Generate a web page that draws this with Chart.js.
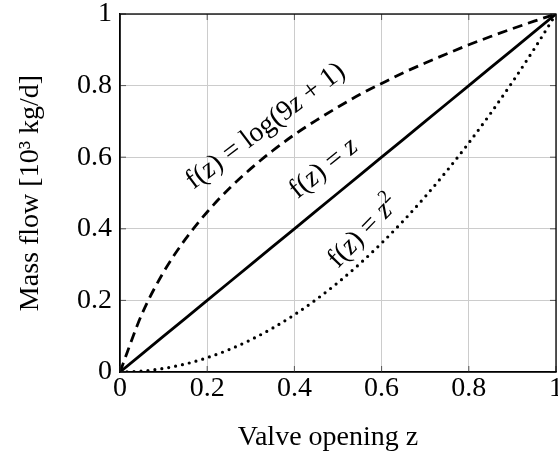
<!DOCTYPE html>
<html>
<head>
<meta charset="utf-8">
<script src="https://cdn.jsdelivr.net/npm/chart.js@4/dist/chart.umd.min.js"></script>
<style>
  html, body { margin: 0; padding: 0; background: #fff; overflow: hidden; }
  #wrap { width: 575px; height: 452px; }
</style>
</head>
<body>
<div id="wrap"><canvas id="flow"></canvas></div>
<script>
// valve opening z and the three valve characteristics
var opening = [0, 0.05, 0.1, 0.15, 0.2, 0.25, 0.3, 0.35, 0.4, 0.45, 0.5,
               0.55, 0.6, 0.65, 0.7, 0.75, 0.8, 0.85, 0.9, 0.95, 1];
var logFlow = [0, 0.161, 0.279, 0.371, 0.447, 0.512, 0.568, 0.618, 0.663, 0.703, 0.740,
               0.775, 0.806, 0.836, 0.863, 0.889, 0.914, 0.937, 0.959, 0.980, 1];
var linearFlow = [0, 0.05, 0.1, 0.15, 0.2, 0.25, 0.3, 0.35, 0.4, 0.45, 0.5,
                  0.55, 0.6, 0.65, 0.7, 0.75, 0.8, 0.85, 0.9, 0.95, 1];
var squareFlow = [0, 0.0025, 0.01, 0.0225, 0.04, 0.0625, 0.09, 0.1225, 0.16, 0.2025, 0.25,
                  0.3025, 0.36, 0.4225, 0.49, 0.5625, 0.64, 0.7225, 0.81, 0.9025, 1];
var tickValues = [0, 0.2, 0.4, 0.6, 0.8, 1];
var tickLabels = ['0', '0.2', '0.4', '0.6', '0.8', '1'];
var xTitle = 'Valve opening z';
var yTitle = 'Mass flow [10³ kg/d]';

var serif = 'Liberation Serif';
var tickFont = { family: serif, size: 28 };
var titleFont = { family: serif, size: 28 };

function points(ys) {
  return opening.map(function (z, i) { return { x: z, y: ys[i] }; });
}

// curve annotations: text runs, anchor (data coords), rotation in degrees
var curveLabels = [
  { runs: [['f(', 'n'], ['z', 'i'], [') = log(9', 'n'], ['z', 'i'], [' + 1)', 'n']], x: 0.332, y: 0.690, angle: -37 },
  { runs: [['f(', 'n'], ['z', 'i'], [') = ', 'n'], ['z', 'i']], x: 0.465, y: 0.572, angle: -39 },
  { runs: [['f(', 'n'], ['z', 'i'], [') = ', 'n'], ['z', 'i'], ['2', 's']], x: 0.556, y: 0.395, angle: -46 }
];

function runFont(kind) {
  if (kind === 'i') return 'italic 28px "' + serif + '"';
  if (kind === 's') return '19px "' + serif + '"';
  return '28px "' + serif + '"';
}

var labelPlugin = {
  id: 'curveLabels',
  afterDatasetsDraw: function (chart) {
    var ctx = chart.ctx, xs = chart.scales.x, ys = chart.scales.y;
    curveLabels.forEach(function (lab) {
      var total = 0;
      lab.runs.forEach(function (r) { ctx.font = runFont(r[1]); total += ctx.measureText(r[0]).width; });
      ctx.save();
      ctx.translate(xs.getPixelForValue(lab.x), ys.getPixelForValue(lab.y));
      ctx.rotate(lab.angle * Math.PI / 180);
      ctx.fillStyle = '#000';
      ctx.textBaseline = 'alphabetic';
      var cx = -total / 2;
      lab.runs.forEach(function (r) {
        ctx.font = runFont(r[1]);
        ctx.fillText(r[0], cx, r[1] === 's' ? -2 : 9);
        cx += ctx.measureText(r[0]).width;
      });
      ctx.restore();
    });
  }
};

// frame on all four sides with short inward tick marks, plus the x axis title
var framePlugin = {
  id: 'frame',
  afterDraw: function (chart) {
    var ctx = chart.ctx, a = chart.chartArea, xs = chart.scales.x, ys = chart.scales.y;
    ctx.save();
    ctx.strokeStyle = '#555';
    ctx.lineWidth = 1;
    tickValues.forEach(function (v) {
      var px = xs.getPixelForValue(v), py = ys.getPixelForValue(v);
      ctx.beginPath();
      ctx.moveTo(px, a.bottom); ctx.lineTo(px, a.bottom - 6);
      ctx.moveTo(px, a.top); ctx.lineTo(px, a.top + 6);
      ctx.moveTo(a.left, py); ctx.lineTo(a.left + 6, py);
      ctx.moveTo(a.right, py); ctx.lineTo(a.right - 6, py);
      ctx.stroke();
    });
    ctx.strokeStyle = '#000';
    ctx.lineWidth = 1.3;
    ctx.strokeRect(a.left, a.top, a.right - a.left, a.bottom - a.top);

    ctx.fillStyle = '#000';
    ctx.font = '28px "' + serif + '"';
    ctx.textAlign = 'center';
    ctx.textBaseline = 'alphabetic';
    ctx.fillText(xTitle, (a.left + a.right) / 2 - 10, a.bottom + 73);
    ctx.restore();
  }
};

new Chart(document.getElementById('flow').getContext('2d'), {
  type: 'line',
  data: {
    datasets: [
      { label: 'log', data: points(logFlow), borderColor: '#000', borderWidth: 2.8,
        borderDash: [10, 6], pointRadius: 0, cubicInterpolationMode: 'monotone' },
      { label: 'linear', data: points(linearFlow), borderColor: '#000', borderWidth: 2.8,
        pointRadius: 0 },
      { label: 'square', data: points(squareFlow), borderColor: '#000', borderWidth: 3.2,
        borderDash: [0, 7], borderCapStyle: 'round', pointRadius: 0, cubicInterpolationMode: 'monotone' }
    ]
  },
  options: {
    responsive: true,
    maintainAspectRatio: false,
    animation: false,
    layout: { padding: { top: 14, right: 19, left: 0, bottom: 0 } },
    plugins: { legend: { display: false }, tooltip: { enabled: false } },
    scales: {
      x: {
        type: 'linear', min: 0, max: 1,
        afterBuildTicks: function (s) { s.ticks = tickValues.map(function (v) { return { value: v }; }); },
        afterFit: function (s) { s.height = 80; s.paddingLeft = 0; s.paddingRight = 0; },
        ticks: { callback: function (v, i) { return tickLabels[i]; }, font: tickFont, color: '#000', padding: 0, maxRotation: 0 },
        grid: { color: '#cccccc', drawTicks: false },
        border: { color: '#000', width: 1.3 }
      },
      y: {
        type: 'linear', min: 0, max: 1,
        afterBuildTicks: function (s) { s.ticks = tickValues.map(function (v) { return { value: v }; }); },
        afterFit: function (s) { s.width = 120; s.paddingTop = 0; s.paddingBottom = 0; },
        ticks: { callback: function (v, i) { return tickLabels[i]; }, font: tickFont, color: '#000', padding: 8 },
        grid: { color: '#cccccc', drawTicks: false },
        border: { color: '#000', width: 1.3 },
        title: { display: true, text: yTitle, font: titleFont, color: '#000', padding: { top: 14, bottom: 0 } }
      }
    }
  },
  plugins: [labelPlugin, framePlugin]
});
</script>
</body>
</html>
